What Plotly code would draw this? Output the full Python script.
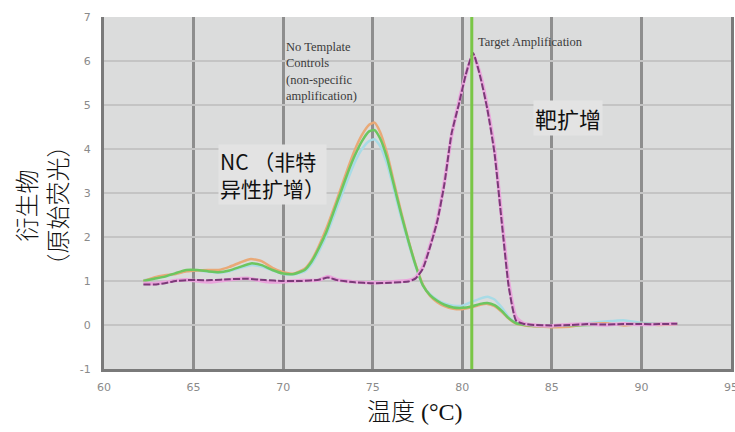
import plotly.graph_objects as go

# ---------------- data ----------------
ntc_temp = [62.2, 62.8, 63.4, 64.0, 64.6, 65.2, 65.8, 66.4, 67.0, 67.6, 68.2, 68.8, 69.4, 70.0,
            70.6, 71.2, 71.6, 72.0, 72.4, 72.8, 73.2, 73.6, 74.0, 74.4, 74.8, 75.1, 75.4, 75.8,
            76.2, 76.6, 77.0, 77.4, 77.8, 78.2, 78.6, 79.0, 79.5, 80.0, 80.5, 81.0, 81.4, 81.8,
            82.2, 82.6, 83.0, 83.5, 84.0, 85.0, 86.0, 87.0, 88.0, 89.0, 90.0, 91.0, 92.0]

ntc_lightblue = [1.02, 1.06, 1.10, 1.16, 1.22, 1.24, 1.21, 1.19, 1.22, 1.30, 1.36, 1.33, 1.24, 1.16,
                 1.15, 1.22, 1.40, 1.68, 2.02, 2.45, 2.88, 3.30, 3.70, 4.00, 4.18, 4.22, 4.08, 3.66,
                 3.05, 2.42, 1.85, 1.32, 0.90, 0.70, 0.57, 0.49, 0.44, 0.44, 0.52, 0.60, 0.64, 0.58,
                 0.40, 0.18, 0.05, 0.01, -0.01, -0.02, 0.00, 0.04, 0.08, 0.11, 0.05, 0.03, 0.03]

ntc_orange = [1.00, 1.08, 1.13, 1.16, 1.22, 1.24, 1.25, 1.25, 1.32, 1.42, 1.50, 1.45, 1.30, 1.20,
              1.17, 1.28, 1.48, 1.80, 2.18, 2.62, 3.08, 3.55, 3.98, 4.32, 4.55, 4.60, 4.40, 3.90,
              3.22, 2.55, 1.92, 1.37, 0.92, 0.66, 0.52, 0.43, 0.37, 0.36, 0.40, 0.46, 0.48, 0.43,
              0.30, 0.14, 0.03, -0.01, -0.03, -0.05, -0.04, 0.02, 0.04, -0.01, 0.02, 0.00, 0.02]

ntc_green = [1.00, 1.05, 1.10, 1.18, 1.25, 1.25, 1.22, 1.20, 1.24, 1.32, 1.40, 1.36, 1.25, 1.17,
             1.16, 1.25, 1.45, 1.75, 2.10, 2.55, 3.00, 3.45, 3.85, 4.18, 4.40, 4.43, 4.25, 3.80,
             3.15, 2.50, 1.90, 1.35, 0.90, 0.68, 0.55, 0.46, 0.40, 0.39, 0.42, 0.48, 0.50, 0.45,
             0.32, 0.15, 0.04, 0.00, -0.02, -0.02, -0.01, 0.00, 0.01, 0.02, 0.02, 0.03, 0.03]

target_temp = [62.2, 62.8, 63.4, 64.0, 64.6, 65.2, 66.0, 67.0, 68.0, 69.0, 70.0, 71.0, 72.0, 72.5,
               73.0, 74.0, 75.0, 76.0, 77.0, 77.4, 77.8, 78.2, 78.6, 79.0, 79.4, 79.8, 80.2, 80.6,
               81.0, 81.4, 81.8, 82.2, 82.6, 83.0, 83.4, 84.0, 85.0, 86.0, 87.0, 88.0, 89.0, 90.0,
               91.0, 92.0]

target_pink = [0.95, 0.94, 0.97, 1.01, 1.03, 1.00, 0.98, 1.03, 1.06, 0.99, 0.98, 1.01, 1.02, 1.10,
               1.03, 0.98, 0.96, 0.98, 1.01, 1.08, 1.32, 1.80, 2.38, 3.25, 4.30, 5.05, 5.70, 6.15,
               5.70, 4.95, 3.98, 2.45, 0.95, 0.18, 0.04, 0.00, -0.02, 0.01, 0.02, 0.00, 0.03, 0.01,
               0.02, 0.03]

target_purple = [0.92, 0.92, 0.95, 1.00, 1.02, 1.02, 1.02, 1.04, 1.05, 1.02, 1.00, 1.00, 1.03, 1.08,
                 1.02, 0.97, 0.95, 0.96, 0.99, 1.06, 1.28, 1.77, 2.35, 3.20, 4.35, 5.00, 5.70, 6.18,
                 5.65, 4.90, 3.90, 2.35, 0.85, 0.10, 0.03, 0.00, -0.01, 0.00, 0.02, 0.01, 0.02, 0.02,
                 0.02, 0.03]

target_tm = 80.53

x_ticks = [60, 65, 70, 75, 80, 85, 90, 95]
y_ticks = [-1, 0, 1, 2, 3, 4, 5, 6, 7]

# ---------------- figure ----------------
fig = go.Figure()

def add_line(x, y, color, width, dash="solid"):
    fig.add_trace(go.Scatter(x=x, y=y, mode="lines",
                             line=dict(color=color, width=width, dash=dash, shape="spline", smoothing=0.5),
                             showlegend=False, hoverinfo="skip"))

add_line(ntc_temp, ntc_lightblue, "#a8dbe6", 2.5)
add_line(ntc_temp, ntc_orange, "#e9a977", 2.5)
add_line(ntc_temp, ntc_green, "#6cc660", 2.5)
add_line(target_temp, target_pink, "#eaa4dc", 3.5)
add_line(target_temp, target_purple, "#7b3a78", 2, dash="7px,2px")

fig.add_vline(x=target_tm, line=dict(color="#79c646", width=3), layer="above")

serif = "Liberation Serif, Noto Sans CJK SC, serif"
sans = "Noto Sans CJK SC, Noto Sans, sans-serif"

annotations = [
    dict(x=70.05, y=6.52, xref="x", yref="y", xanchor="left", yanchor="top", align="left",
         text="No Template<br>Controls<br>(non-specific<br>amplification)",
         font=dict(family=serif, size=12.5, color="#3a3a3a"), showarrow=False),
    dict(x=80.78, y=6.43, xref="x", yref="y", xanchor="left", yanchor="middle", align="left",
         text="Target Amplification",
         font=dict(family=serif, size=12.5, color="#3a3a3a"), showarrow=False),
    dict(x=66.35, y=4.12, xref="x", yref="y", xanchor="left", yanchor="top", align="left",
         text="NC （非特<br>异性扩增）", bgcolor="#e3e3e3", borderpad=1,
         font=dict(family=sans, size=21, color="#111111"), showarrow=False),
    dict(x=85.9, y=4.70, xref="x", yref="y", xanchor="center", yanchor="middle",
         text="靶扩增", bgcolor="#e3e3e3", borderpad=1,
         font=dict(family=sans, size=22, color="#111111"), showarrow=False),
    dict(x=-0.0965, y=0.466, xref="paper", yref="paper", xanchor="center", yanchor="middle",
         text="衍生物<br>（原始荧光）", textangle=-90, align="center",
         font=dict(family=serif, size=24, color="#111111", weight=300), showarrow=False),
    dict(x=0.496, y=-0.122, xref="paper", yref="paper", xanchor="center", yanchor="middle",
         text="温度 (°C)",
         font=dict(family=serif, size=24, color="#111111", weight=300), showarrow=False),
]

fig.update_layout(
    width=735, height=432,
    margin=dict(l=104, r=4, t=17, b=63),
    paper_bgcolor="white",
    plot_bgcolor="#dbdcdc",
    annotations=annotations,
    xaxis=dict(range=[60, 95], tickvals=x_ticks, ticktext=[str(v) for v in x_ticks],
               showgrid=True, gridcolor="#8e8e8e", gridwidth=2.5, automargin=False,
               showline=True, linecolor="#7a7a7a", linewidth=3, zeroline=False,
               ticks="", ticklabelstandoff=6, ticklabeloverflow="allow",
               tickfont=dict(family="DejaVu Sans", size=11, color="#8a8a8a")),
    yaxis=dict(range=[-1, 7], tickvals=y_ticks, ticktext=[str(v) for v in y_ticks],
               showgrid=True, gridcolor="#c4c4c4", gridwidth=1.5, automargin=False,
               showline=True, linecolor="#7a7a7a", linewidth=3, mirror=True, zeroline=False,
               ticks="", ticklabelstandoff=8,
               tickfont=dict(family="DejaVu Sans", size=11, color="#8a8a8a")),
)

fig.write_html("out.html", config={"displayModeBar": False},
               post_script="document.body.style.margin='0';document.body.style.overflow='hidden';")
